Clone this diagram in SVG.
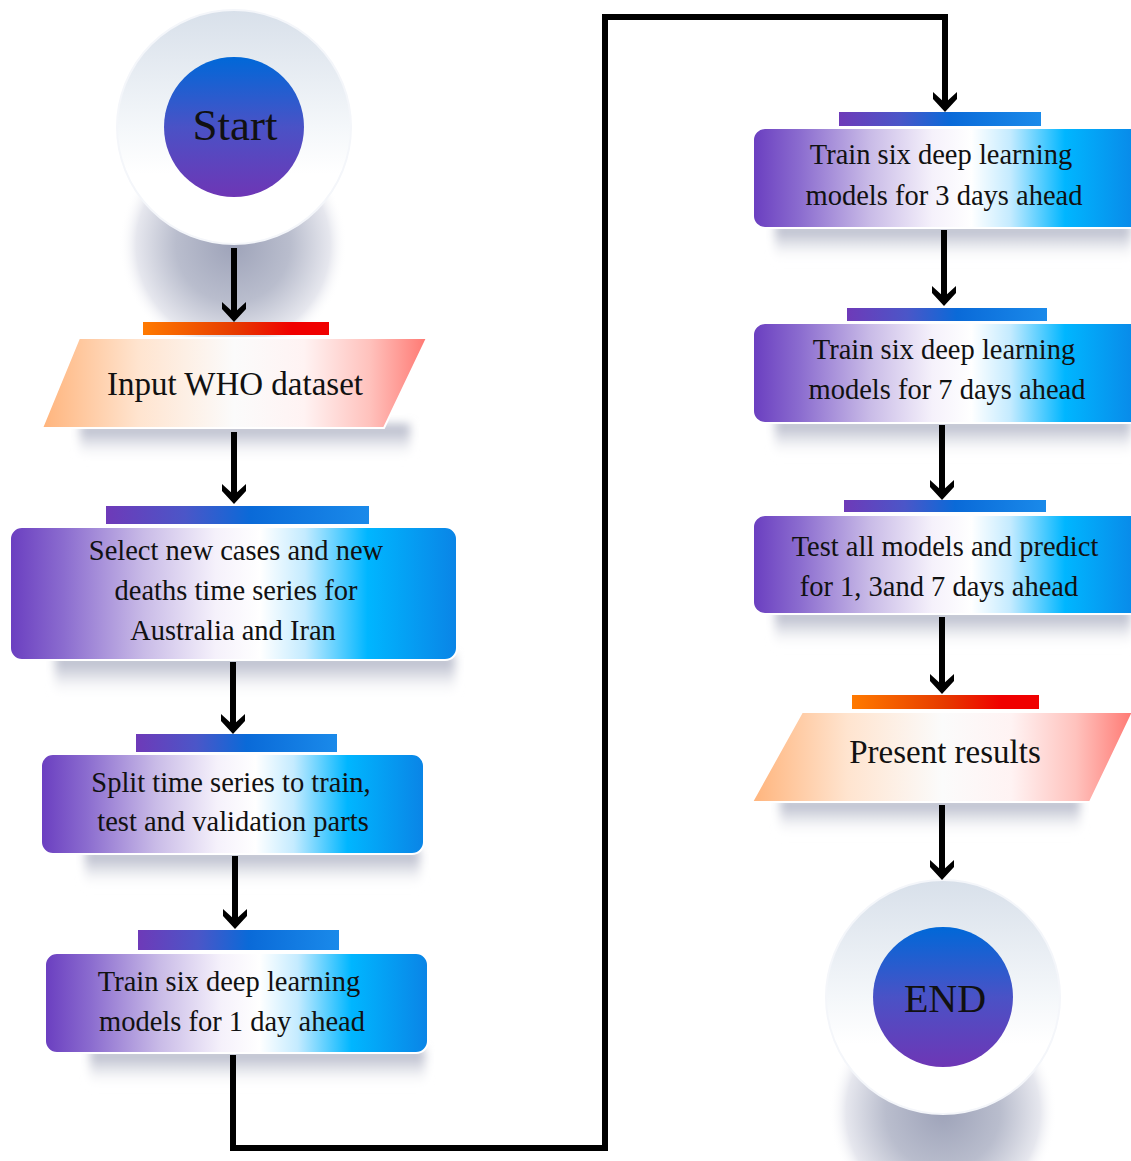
<svg xmlns="http://www.w3.org/2000/svg" width="1131" height="1161" viewBox="0 0 1131 1161">
<defs>
<style>
.t{font-family:"Liberation Serif","Times New Roman",serif;fill:#111;text-anchor:middle}
.box{fill:url(#boxGrad);stroke:#fff;stroke-width:2}
.bar{fill:url(#barGrad)}
.obar{fill:url(#orangeGrad)}
.para{fill:url(#paraGrad);stroke:#fff;stroke-width:2}
.shd{fill:url(#shadowGrad);filter:url(#blur)}
.conn{fill:none;stroke:#000;stroke-width:6;marker-end:url(#arr)}
.inner{fill:url(#innerGrad)}
.outer{fill:url(#outerGrad);stroke:#f4f6fa;stroke-width:2}
.cshd{fill:url(#cShadow)}
</style>
<linearGradient id="boxGrad" x1="0" y1="0" x2="1" y2="0">
<stop offset="0" stop-color="#6a3ec0"/>
<stop offset="0.12" stop-color="#8b6ccf"/>
<stop offset="0.3" stop-color="#c9bbe7"/>
<stop offset="0.46" stop-color="#f5f1fb"/>
<stop offset="0.56" stop-color="#ffffff"/>
<stop offset="0.66" stop-color="#c4ebff"/>
<stop offset="0.8" stop-color="#00b6ff"/>
<stop offset="1" stop-color="#0a84e6"/>
</linearGradient>
<linearGradient id="barGrad" x1="0" y1="0" x2="1" y2="0">
<stop offset="0" stop-color="#6e3ab8"/>
<stop offset="0.3" stop-color="#4b56c8"/>
<stop offset="0.55" stop-color="#0a6ad8"/>
<stop offset="1" stop-color="#1a8aea"/>
</linearGradient>
<linearGradient id="orangeGrad" x1="0" y1="0" x2="1" y2="0">
<stop offset="0" stop-color="#ff7a00"/>
<stop offset="0.5" stop-color="#e63a00"/>
<stop offset="0.8" stop-color="#f00000"/>
<stop offset="1" stop-color="#f00000"/>
</linearGradient>
<linearGradient id="paraGrad" x1="0" y1="0" x2="1" y2="0">
<stop offset="0" stop-color="#ffb47c"/>
<stop offset="0.25" stop-color="#ffe4cf"/>
<stop offset="0.5" stop-color="#fbfbfb"/>
<stop offset="0.68" stop-color="#fff3f3"/>
<stop offset="0.85" stop-color="#ffc2bd"/>
<stop offset="1" stop-color="#ff7872"/>
</linearGradient>
<linearGradient id="innerGrad" x1="0" y1="0" x2="0" y2="1">
<stop offset="0" stop-color="#0068d8"/>
<stop offset="0.5" stop-color="#4a52c6"/>
<stop offset="1" stop-color="#6e36b5"/>
</linearGradient>
<linearGradient id="outerGrad" x1="0" y1="0" x2="0" y2="1">
<stop offset="0" stop-color="#d8e0ea"/>
<stop offset="0.5" stop-color="#f4f7fa"/>
<stop offset="0.7" stop-color="#ffffff"/>
<stop offset="1" stop-color="#ffffff"/>
</linearGradient>
<radialGradient id="cShadow" cx="0.5" cy="0.5" r="0.5">
<stop offset="0" stop-color="#9ea3b9"/>
<stop offset="0.5" stop-color="#b9bdcd"/>
<stop offset="0.85" stop-color="#e6e7ee"/>
<stop offset="1" stop-color="#ffffff" stop-opacity="0"/>
</radialGradient>
<linearGradient id="shadowGrad" x1="0" y1="0" x2="0" y2="1">
<stop offset="0" stop-color="#b0b4c5"/>
<stop offset="0.4" stop-color="#d3d5df"/>
<stop offset="1" stop-color="#ffffff" stop-opacity="0"/>
</linearGradient>
<filter id="blur" x="-20%" y="-50%" width="140%" height="200%">
<feGaussianBlur stdDeviation="5"/>
</filter>
<marker id="arr" markerUnits="userSpaceOnUse" viewBox="-21 -13 22 26" markerWidth="22" markerHeight="26" refX="-9" refY="0" orient="auto">
<polygon points="0,0 -13,-12 -20,-12 -9,0 -20,12 -13,12" fill="#000"/>
</marker>
</defs>
<rect width="1131" height="1161" fill="#fff"/>

<g id="shadows">
<rect class="shd" x="80" y="424" width="330" height="36"/>
<rect class="shd" x="55" y="655" width="400" height="42"/>
<rect class="shd" x="85" y="850" width="335" height="38"/>
<rect class="shd" x="90" y="1049" width="335" height="38"/>
<rect class="shd" x="775" y="224" width="356" height="38"/>
<rect class="shd" x="775" y="419" width="356" height="38"/>
<rect class="shd" x="775" y="610" width="356" height="38"/>
<rect class="shd" x="780" y="798" width="300" height="38"/>
</g>

<g id="start">
<circle class="cshd" cx="233" cy="245" r="114"/>
<circle class="outer" cx="234" cy="127" r="117"/>
<circle class="inner" cx="234" cy="127" r="70"/>
<text class="t" x="235" y="140" font-size="45">Start</text>
</g>

<g id="input">
<rect class="obar" x="143" y="322" width="186" height="13"/>
<polygon class="para" points="79,338 427,338 384,428 42,428"/>
<text class="t" x="235" y="395" font-size="33">Input WHO dataset</text>
</g>

<g id="select">
<rect class="bar" x="106" y="506" width="263" height="18"/>
<rect class="box" x="10" y="527" width="447" height="133" rx="12"/>
<text class="t" x="236" y="560" font-size="28.5">Select new cases and new</text>
<text class="t" x="236" y="600" font-size="28.5">deaths time series for</text>
<text class="t" x="233" y="640" font-size="28.5">Australia and Iran</text>
</g>

<g id="split">
<rect class="bar" x="136" y="734" width="201" height="18"/>
<rect class="box" x="41" y="754" width="383" height="100" rx="12"/>
<text class="t" x="231" y="792" font-size="28.5">Split time series to train,</text>
<text class="t" x="233" y="831" font-size="28.5">test and validation parts</text>
</g>

<g id="train1">
<rect class="bar" x="138" y="930" width="201" height="20"/>
<rect class="box" x="45" y="953" width="383" height="100" rx="12"/>
<text class="t" x="229" y="991" font-size="28.5">Train six deep learning</text>
<text class="t" x="232" y="1031" font-size="28.5">models for 1 day ahead</text>
</g>

<g id="train3">
<rect class="bar" x="839" y="112" width="202" height="14"/>
<rect class="box" x="753" y="128" width="390" height="100" rx="12"/>
<text class="t" x="941" y="164" font-size="28.5">Train six deep learning</text>
<text class="t" x="944" y="205" font-size="28.5">models for 3 days ahead</text>
</g>

<g id="train7">
<rect class="bar" x="847" y="308" width="200" height="13"/>
<rect class="box" x="753" y="323" width="390" height="100" rx="12"/>
<text class="t" x="944" y="359" font-size="28.5">Train six deep learning</text>
<text class="t" x="947" y="399" font-size="28.5">models for 7 days ahead</text>
</g>

<g id="test">
<rect class="bar" x="844" y="500" width="202" height="12"/>
<rect class="box" x="753" y="515" width="390" height="99" rx="12"/>
<text class="t" x="945" y="556" font-size="28.5">Test all models and predict</text>
<text class="t" x="939" y="596" font-size="28.5">for 1, 3and 7 days ahead</text>
</g>

<g id="present">
<rect class="obar" x="852" y="695" width="187" height="14"/>
<polygon class="para" points="802,712 1133,712 1090,802 752,802"/>
<text class="t" x="945" y="763" font-size="33">Present results</text>
</g>

<g id="end">
<circle class="cshd" cx="943" cy="1112" r="114"/>
<circle class="outer" cx="943" cy="997" r="117"/>
<circle class="inner" cx="943" cy="997" r="70"/>
<text class="t" x="945" y="1012" font-size="40">END</text>
</g>

<g id="connectors">
<path class="conn" d="M234,248 V313"/>
<path class="conn" d="M234,432 V495"/>
<path class="conn" d="M233,662 V725"/>
<path class="conn" d="M235,856 V920"/>
<path class="conn" d="M233,1055 V1148 H605 V17 H945 V103"/>
<path class="conn" d="M944,230 V297"/>
<path class="conn" d="M942,425 V491"/>
<path class="conn" d="M942,617 V685"/>
<path class="conn" d="M942,805 V871"/>
</g>
</svg>
